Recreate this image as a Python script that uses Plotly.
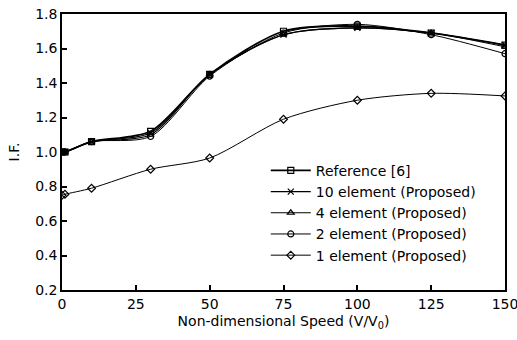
import plotly.graph_objects as go

speed = [0, 1, 10, 30, 50, 75, 100, 125, 150]

ref6 = [1.00, 1.00, 1.06, 1.12, 1.45, 1.70, 1.73, 1.69, 1.62]
elem10 = [1.00, 1.00, 1.06, 1.11, 1.45, 1.68, 1.72, 1.69, 1.62]
elem4 = [1.00, 1.00, 1.06, 1.10, 1.45, 1.68, 1.72, 1.69, 1.61]
elem2 = [1.00, 1.00, 1.06, 1.09, 1.44, 1.69, 1.74, 1.68, 1.57]
elem1 = [0.75, 0.755, 0.79, 0.90, 0.965, 1.19, 1.30, 1.34, 1.325]

x_ticks = [0, 25, 50, 75, 100, 125, 150]
y_ticks = [0.2, 0.4, 0.6, 0.8, 1.0, 1.2, 1.4, 1.6, 1.8]

series = [
    ("Reference [6]", ref6, "square-open", 1.8),
    ("10 element (Proposed)", elem10, "x-thin-open", 1.2),
    ("4 element (Proposed)", elem4, "triangle-up-open", 1.2),
    ("2 element (Proposed)", elem2, "circle-open", 1.0),
    ("1 element (Proposed)", elem1, "diamond-open", 1.0),
]

FONT = "DejaVu Sans, Arial"

fig = go.Figure()
for name, vals, sym, lw in series:
    fig.add_trace(go.Scatter(
        x=speed, y=vals, name=name, mode="lines+markers",
        line=dict(color="black", width=lw, shape="spline", smoothing=0.8),
        marker=dict(symbol=sym, size=6, color="black",
                    line=dict(color="black", width=1.2)),
    ))

axis_common = dict(
    showline=True, linecolor="black", linewidth=1.5, mirror=True,
    ticks="inside", ticklen=5, tickcolor="black", tickwidth=1.5,
    showgrid=False, zeroline=False, ticklabeloverflow="allow",
    tickfont=dict(family=FONT, size=14, color="black"),
)

fig.update_layout(
    width=517, height=340,
    margin=dict(l=62, r=12, t=14, b=50, autoexpand=False),
    paper_bgcolor="white", plot_bgcolor="white",
    font=dict(family=FONT, size=14, color="black"),
    xaxis=dict(range=[0, 150], tickvals=x_ticks,
               title=dict(text="Non-dimensional Speed (V/V<sub>0</sub>)",
                          standoff=6, font=dict(size=14)),
               **axis_common),
    yaxis=dict(range=[0.2, 1.8], tickvals=y_ticks, tickformat=".1f",
               title=dict(text="I.F.", standoff=12, font=dict(size=14)),
               **axis_common),
    legend=dict(x=0.46, y=0.49, xanchor="left", yanchor="top",
                bgcolor="rgba(255,255,255,0)", borderwidth=0,
                font=dict(size=14), tracegroupgap=0, itemwidth=40),
    showlegend=True,
)

fig.write_html("out.html")
